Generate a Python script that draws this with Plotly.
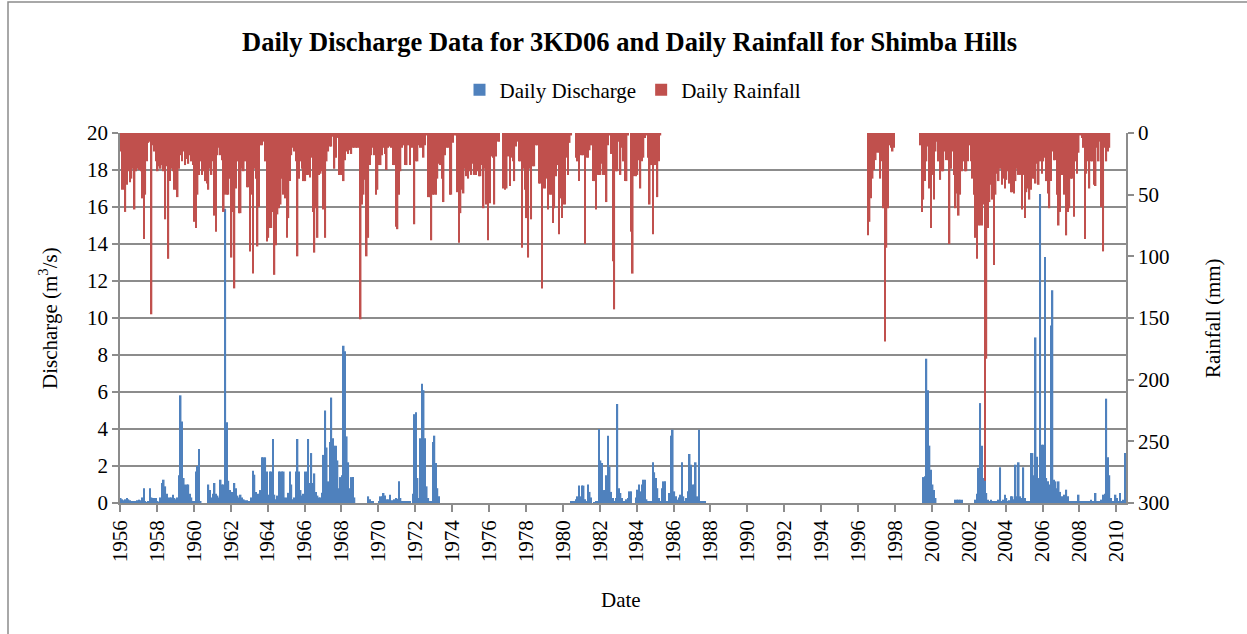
import pandas as pd
import plotly.graph_objects as go

# ---- Data: monthly peak values ----
# Daily rainfall (mm), Shimba Hills, one value per month from the start month
rain_start_a = "1956-01"
rain_1956_1965 = [
    15, 46, 46, 64, 42, 31, 40, 37, 29, 62, 31, 29,
    30, 31, 53, 86, 50, 23, 8, 7, 147, 10, 15, 23,
    31, 27, 29, 26, 31, 70, 27, 102, 39, 29, 31, 46,
    46, 52, 29, 18, 23, 15, 26, 21, 25, 18, 23, 26,
    72, 77, 50, 34, 23, 34, 31, 39, 41, 46, 29, 34,
    23, 67, 80, 18, 12, 18, 22, 64, 50, 50, 50, 37,
    101, 64, 126, 45, 23, 65, 65, 29, 31, 23, 44, 44,
    96, 50, 114, 29, 37, 92, 60, 10, 10, 7, 23, 88,
    85, 77, 77, 64, 115, 91, 66, 61, 58, 37, 50, 53,
    85, 69, 39, 18, 12, 15, 23, 100, 37, 23, 29, 39,
]
rain_start_b = "1966-01"
rain_1966_1975 = [
    39, 34, 34, 36, 20, 64, 97, 61, 85, 34, 33, 31,
    62, 85, 23, 15, 11, 11, 3, 29, 20, 4, 34, 34,
    34, 39, 22, 15, 17, 14, 17, 12, 12, 12, 12, 12,
    151, 58, 50, 38, 100, 85, 26, 18, 12, 18, 50, 46,
    26, 26, 18, 12, 17, 30, 12, 11, 12, 26, 26, 76,
    78, 50, 31, 12, 10, 26, 26, 10, 26, 12, 12, 74,
    23, 23, 10, 12, 12, 20, 10, 2, 52, 52, 87, 50,
    50, 50, 37, 25, 26, 37, 56, 18, 12, 12, 50, 50,
    8, 2, 2, 48, 89, 65, 46, 49, 29, 35, 37, 31,
    34, 25, 34, 34, 31, 35, 35, 26, 61, 29, 58, 87,
]
rain_start_c = "1976-01"
rain_1976_1985 = [
    57, 19, 20, 58, 19, 7, 7, 0, 0, 45, 46, 45,
    19, 43, 20, 23, 39, 11, 7, 23, 23, 93, 29, 46,
    69, 101, 29, 70, 27, 27, 10, 10, 41, 41, 126, 45,
    45, 37, 62, 50, 50, 73, 61, 35, 26, 82, 53, 69,
    58, 58, 20, 34, 8, 2, 0, 0, 20, 23, 39, 18,
    18, 18, 90, 20, 20, 14, 10, 39, 39, 62, 34, 34,
    34, 25, 34, 34, 56, 10, 2, 17, 104, 143, 31, 31,
    7, 34, 12, 23, 39, 39, 2, 0, 80, 114, 35, 35,
    34, 22, 45, 23, 20, 4, 2, 20, 58, 26, 82, 26,
    26, 52, 23, 2,
]
rain_start_d = "1996-07"
rain_1996_1997 = [83, 72, 53, 37, 30, 22, 16, 16, 37, 23, 61, 169,
                  93, 61, 10, 12, 15, 12]
rain_start_e = "1999-05"
rain_1999_2009 = [
    10, 64, 54, 39, 23, 11, 45, 77, 34, 54, 15, 7,
    23, 38, 31, 31, 15, 22, 22, 90, 29, 15, 34, 61,
    49, 67, 50, 31, 23, 31, 31, 23, 10, 23, 37, 50,
    85, 102, 75, 75, 75, 58, 282, 183, 77, 56, 42, 54,
    107, 50, 33, 39, 29, 42, 37, 45, 38, 31, 41, 48,
    48, 49, 39, 29, 34, 34, 62, 34, 69, 48, 45, 54,
    46, 37, 37, 41, 25, 42, 23, 33, 23, 20, 39, 49,
    61, 39, 15, 22, 22, 50, 75, 64, 34, 8, 50, 83,
    64, 61, 37, 37, 68, 23, 33, 16, 2, 4, 12, 86,
    33, 23, 45, 23, 23, 42, 43, 12, 23, 7, 60, 96,
    12, 23, 15, 12,
]

# Daily discharge (m3/s), 3KD06
q_start_a = "1956-01"
q_1956_1969 = [
    0.27, 0.2, 0.15, 0.2, 0.27, 0.2, 0.15, 0.1, 0.1, 0.1, 0.1, 0.15,
    0.18, 0.15, 0.3, 0.8, 0.1, 0.05, 0.1, 0.8, 0.3, 0.27, 0.27, 0.27,
    0.1, 0.05, 0.3, 1.08, 1.26, 0.9, 0.5, 0.3, 0.3, 0.3, 0.45, 0.27,
    0.2, 0.3, 1.5, 5.82, 4.4, 1.35, 1.0, 1.0, 1.0, 0.5, 0.3, 0.1,
    0.1, 1.7, 2.0, 2.92, 0.1, 0, 0, 0, 0, 1.0, 0.7, 0.3,
    0.5, 1.08, 0.5, 0.4, 0.3, 1.26, 1.0, 1.0, 15.9, 4.36, 1.2, 0.7,
    0.6, 0.6, 1.08, 0.8, 0.4, 0.3, 0.45, 0.3, 0.2, 0.15, 0.15, 0.1,
    0.1, 0.3, 1.75, 1.53, 0.6, 0.5, 0.5, 0.7, 2.47, 2.47, 2.47, 1.7,
    0.45, 1.7, 1.7, 3.46, 0.45, 0.2, 0.4, 1.7, 1.7, 1.7, 1.7, 0.3,
    0.3, 0.55, 1.7, 1.0, 0.2, 0.3, 1.7, 3.46, 1.7, 0.7, 0.4, 0.5,
    1.7, 1.7, 3.46, 1.08, 2.7, 1.08, 1.6, 0.6, 0.4, 0.3, 0.3, 0.55,
    2.6, 5.0, 3.0, 1.17, 3.3, 5.7, 3.5, 3.1, 3.1, 2.3, 0.8, 1.4,
    1.5, 8.5, 8.2, 3.6, 2.2, 0.8, 1.4, 1.4, 0.3, 0, 0, 0,
    0, 0, 0, 0, 0, 0.36, 0.2, 0.1,
]
q_start_b = "1969-09"
q_1969_1973 = [
    0.1, 0, 0, 0,
    0.1, 0.36, 0.36, 0.54, 0.4, 0.2, 0.2, 0.45, 0.15, 0.15, 0.2, 0.27,
    0.23, 1.17, 0.27, 0.1, 0.1, 0.1, 0.1, 0.1, 0.1, 0, 0.5, 4.8,
    4.9, 1.35, 0.27, 3.5, 6.45, 6.1, 3.5, 0.9, 0.27, 0.1, 0.1, 3.3,
    3.64, 2.16, 0.8, 0.36,
]
q_start_c = "1980-06"
q_1980_1987 = [
    0.1, 0.1, 0.1, 0.2, 0.36, 0.94, 0.36, 0.94, 0.94, 0.2, 0.1, 1.0,
    0.6, 0.3, 0, 0.05, 0.1, 0.1, 4.0, 2.3, 2.16, 0.7, 0.7, 1.5,
    3.64, 1.95, 0.6, 0.27, 0.1, 0.27, 5.35, 0.8, 0.54, 0.27, 0.1, 0.1,
    0.2, 0.27, 0.63, 0.63, 0, 0, 0.3, 0.72, 1.0, 0.63, 1.0, 1.26,
    1.26, 0.2, 0.1, 0.1, 0.1, 2.2, 1.66, 1.35, 0.8, 0.27, 0.1, 0.8,
    1.17, 1.17, 0.1, 0.1, 0.54, 3.64, 3.96, 0.63, 0.36, 0.18, 0.3, 0.45,
    2.2, 0.36, 0.1, 0.27, 0.63, 2.65, 2.07, 1.0, 1.0, 2.2, 0.36, 3.96,
    0.1, 0.1, 0.1, 0.1,
]
q_start_d = "1999-07"
q_1999_2010 = [
    1.4, 1.44, 7.8, 6.1, 3.1, 1.8, 1.0, 0.7, 0.27, 0, 0, 0,
    0, 0, 0, 0, 0, 0, 0, 0, 0, 0.18, 0.18, 0.18,
    0.18, 0.18, 0, 0, 0, 0, 0, 0, 0, 0, 0.18, 0.5,
    1.9, 5.4, 3.1, 1.35, 1.44, 0.54, 0.18, 0.1, 0.18, 0.1, 0.1, 0.1,
    0.1, 0.18, 1.93, 0.1, 0.18, 0.45, 0.27, 0.1, 0.15, 0.36, 0.36, 0.2,
    2.07, 0.36, 2.2, 0.36, 0.27, 1.93, 0.27, 0.1, 0.1, 0.1, 2.7, 2.7,
    1.5, 8.95, 2.5, 1.35, 16.7, 3.15, 3.15, 13.3, 1.35, 1.17, 1.0, 9.6,
    11.5, 1.26, 1.17, 0.8, 1.17, 0.6, 0.36, 0.27, 0.45, 0.72, 0.36, 0.1,
    0.1, 0.1, 0.1, 0.1, 0.1, 0.45, 0.1, 0.1, 0.1, 0.1, 0.1, 0.1,
    0.1, 0.18, 0.1, 0.1, 0.54, 0.1, 0.1, 0.1, 0.18, 0.45, 0.5, 5.64,
    2.47, 1.5, 0.27, 0.1, 0.1, 0.45, 0.27, 0.1, 0.54, 0.1, 0.18, 2.7,
]

year_ticks = list(range(1956, 2011, 2))


def monthly(start, values):
    d = pd.date_range(start + "-01", periods=len(values), freq="MS") + pd.Timedelta(days=15)
    return list(d), list(values)


def join(*parts):
    xs, ys = [], []
    for s, v in parts:
        x, y = monthly(s, v)
        xs += x
        ys += y
    return xs, ys


qx, qy = join((q_start_a, q_1956_1969), (q_start_b, q_1969_1973),
              (q_start_c, q_1980_1987), (q_start_d, q_1999_2010))
rx, ry = join((rain_start_a, rain_1956_1965), (rain_start_b, rain_1966_1975),
              (rain_start_c, rain_1976_1985), (rain_start_d, rain_1996_1997),
              (rain_start_e, rain_1999_2009))

MONTH_MS = 31 * 24 * 3600 * 1000
BLUE = "#4F81BD"
RED = "#C0504D"
GRID = "#8C8C8C"
FONT = "Liberation Serif"
FS = 21

fig = go.Figure()
fig.add_trace(go.Bar(x=qx, y=qy, name="Daily Discharge", marker_color=BLUE,
                     marker_line_width=0, width=MONTH_MS, yaxis="y"))
fig.add_trace(go.Bar(x=rx, y=ry, name="Daily Rainfall", marker_color=RED,
                     marker_line_width=0, width=MONTH_MS, yaxis="y2"))

L, R, T, B = 120, 121, 133, 131
W, H = 1247, 634
pw, ph = W - L - R, H - T - B


def px(xp):
    return (xp - L) / pw


def py(yp):
    return (H - B - yp) / ph


fig.update_layout(
    width=W, height=H,
    margin=dict(l=L, r=R, t=T, b=B, autoexpand=False),
    paper_bgcolor="white", plot_bgcolor="white",
    font=dict(family=FONT, size=FS, color="black"),
    barmode="overlay",
    title=dict(text="<b>Daily Discharge Data for 3KD06 and Daily Rainfall for Shimba Hills</b>",
               x=px(629.5), xref="paper", xanchor="center",
               y=1 - 42 / H, yref="container", yanchor="middle",
               font=dict(family=FONT, size=26.5, color="black")),
    legend=dict(orientation="h", x=px(633), xanchor="center", y=py(90), yanchor="middle",
                font=dict(family=FONT, size=FS), itemwidth=30, bgcolor="rgba(0,0,0,0)"),
    xaxis=dict(type="date", range=["1956-01-01", "2010-07-10"],
               tickvals=[f"{y}-01-01" for y in year_ticks],
               ticktext=[str(y) for y in year_ticks],
               tickangle=-90, ticks="outside", ticklen=7, tickcolor=GRID, tickwidth=1.5,
               showline=True, linecolor=GRID, linewidth=1.5, showgrid=False,
               tickfont=dict(family=FONT, size=FS), zeroline=False),
    yaxis=dict(range=[0, 20], dtick=2, tick0=0, ticks="outside", ticklen=6,
               tickcolor=GRID, tickwidth=1.5, showline=True, linecolor=GRID, linewidth=1.5,
               showgrid=True, gridcolor=GRID, gridwidth=1.5, zeroline=False,
               tickfont=dict(family=FONT, size=FS)),
    yaxis2=dict(range=[300, 0], dtick=50, tick0=0, overlaying="y", side="right",
                ticks="outside", ticklen=6, tickcolor=GRID, tickwidth=1.5,
                showline=True, linecolor=GRID, linewidth=1.5, showgrid=False,
                zeroline=False, tickfont=dict(family=FONT, size=FS)),
    annotations=[
        dict(text="Discharge (m<sup>3</sup>/s)", x=px(48), y=py(318), xref="paper", yref="paper",
             textangle=-90, showarrow=False, xanchor="center", yanchor="middle",
             font=dict(family=FONT, size=FS)),
        dict(text="Rainfall (mm)", x=px(1213), y=py(318), xref="paper", yref="paper",
             textangle=-90, showarrow=False, xanchor="center", yanchor="middle",
             font=dict(family=FONT, size=FS)),
        dict(text="Date", x=px(621), y=py(600), xref="paper", yref="paper",
             showarrow=False, xanchor="center", yanchor="middle",
             font=dict(family=FONT, size=FS)),
    ],
    shapes=[dict(type="rect", xref="paper", yref="paper",
                 x0=px(8), x1=px(1252), y0=py(640), y1=py(2),
                 line=dict(color="#8C8C8C", width=1.5), fillcolor="rgba(0,0,0,0)", layer="below")],
)

fig.write_html("out.html", config={"displayModeBar": False},
               post_script="document.body.style.margin='0';")
